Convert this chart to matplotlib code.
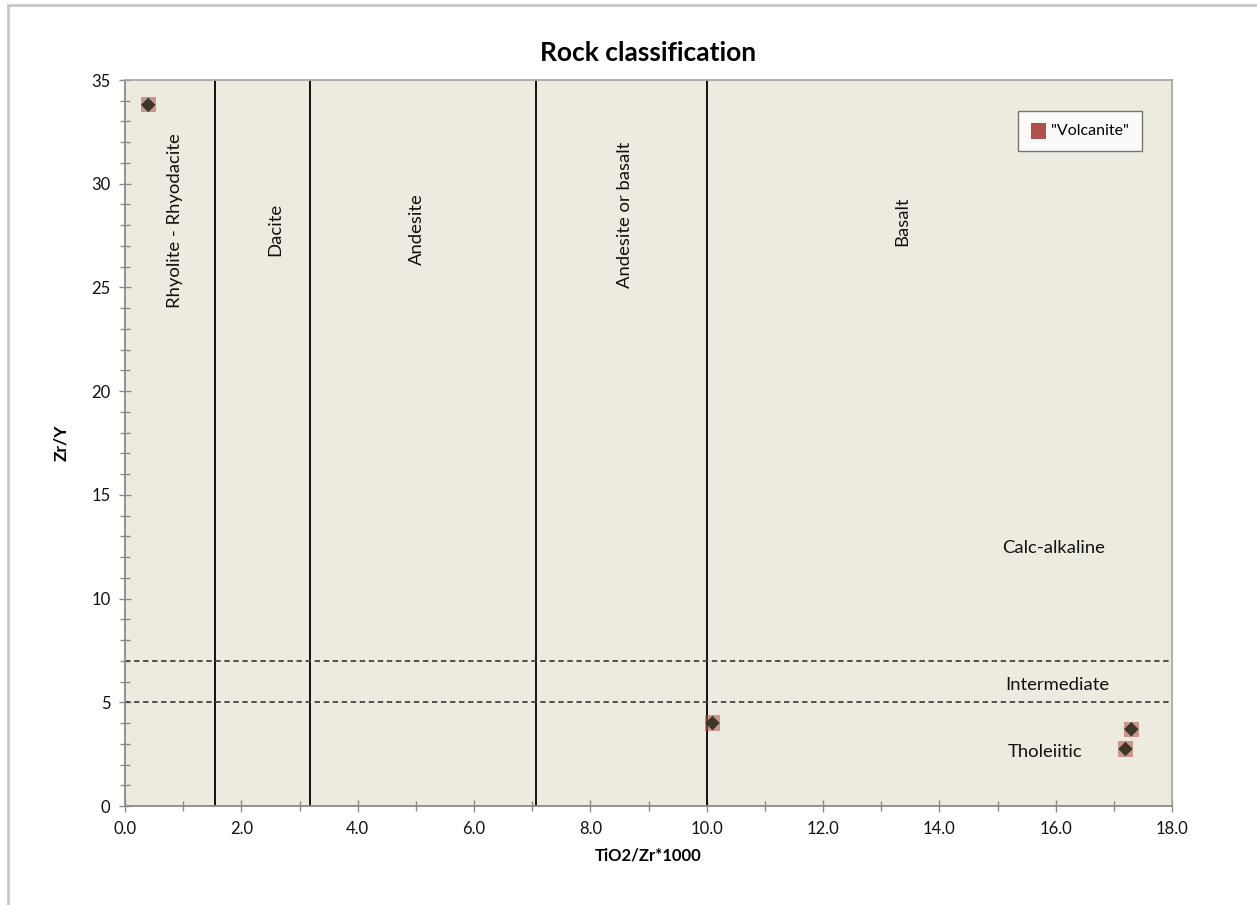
import matplotlib.pyplot as plt
from matplotlib.patches import Rectangle
from matplotlib.ticker import MultipleLocator, FormatStrFormatter

plt.rcParams['font.family'] = ['Lato', 'DejaVu Sans']

# data points ("Volcanite")
ti_zr = [0.40, 10.1, 17.3, 17.2]
zr_y = [33.8, 4.0, 3.7, 2.75]

# field boundaries
x_bounds = [1.55, 3.18, 7.07, 10.0]
y_bounds = [5.0, 7.0]

# field labels
rock_names = ["Rhyolite - Rhyodacite", "Dacite", "Andesite", "Andesite or basalt", "Basalt"]
rock_x = [0.86, 2.58, 5.02, 8.59, 13.37]
rock_y = [28.2, 27.8, 27.8, 28.5, 28.2]

series_names = ["Calc-alkaline", "Intermediate", "Tholeiitic"]
series_x = [15.96, 16.03, 15.82]
series_y = [12.44, 5.83, 2.6]

fig = plt.figure(figsize=(12.57, 9.05), dpi=100)
fig.patches.append(Rectangle((8/1257, -0.01), 1.1, 1 - 5/905 + 0.01, transform=fig.transFigure,
                             fill=False, edgecolor='#c8c8c8', linewidth=2))
ax = fig.add_axes([125/1257, 1 - 806/905, 1047/1257, 726/905])
ax.set_facecolor('#edeae0')

for xb in x_bounds:
    ax.axvline(xb, color='black', lw=1.3, zorder=2)
for yb in y_bounds:
    ax.axhline(yb, color='#444444', lw=1.3, ls=(0, (3, 2)), zorder=2)

ax.scatter(ti_zr, zr_y, marker='s', s=120, color='#b0504a', alpha=0.55,
           edgecolors='none', zorder=3, label='"Volcanite"')
ax.scatter(ti_zr, zr_y, marker='D', s=55, color='#3d3726', edgecolors='none', zorder=4)

for name, x, y in zip(rock_names, rock_x, rock_y):
    ax.text(x, y, name, rotation=90, ha='center', va='center', fontsize=13.3, color='#111111')
for name, x, y in zip(series_names, series_x, series_y):
    ax.text(x, y, name, ha='center', va='center', fontsize=13.3, color='#111111')

ax.set_xlim(0, 18)
ax.set_ylim(0, 35)
ax.xaxis.set_major_locator(MultipleLocator(2))
ax.xaxis.set_minor_locator(MultipleLocator(1))
ax.xaxis.set_major_formatter(FormatStrFormatter('%.1f'))
ax.yaxis.set_major_locator(MultipleLocator(5))
ax.yaxis.set_minor_locator(MultipleLocator(1))
ax.tick_params(which='major', direction='inout', length=9, width=1, color='#8a8a8a',
               labelsize=12, labelcolor='#111111', pad=6)
ax.tick_params(which='minor', direction='inout', length=7, width=1, color='#8a8a8a')

for side in ['left', 'bottom']:
    ax.spines[side].set_color('#8a8a8a')
    ax.spines[side].set_linewidth(1.3)
for side in ['top', 'right']:
    ax.spines[side].set_color('#a8a8a8')
    ax.spines[side].set_linewidth(1.3)

ax.set_xlabel('TiO2/Zr*1000', fontsize=12, fontweight='bold', labelpad=8)
ax.set_ylabel('Zr/Y', fontsize=12.5, fontweight='bold', labelpad=16)
ax.set_title('Rock classification', fontsize=19, fontweight='bold', pad=14)

leg = ax.legend(loc='upper right', bbox_to_anchor=(0.9713, 0.957), borderaxespad=0,
                fontsize=11.5, frameon=True, fancybox=False, handletextpad=0.3,
                handlelength=1.0, borderpad=0.8, scatterpoints=1)
leg.get_frame().set_edgecolor('#555555')
leg.get_frame().set_linewidth(1.0)
leg.legend_handles[0].set_alpha(1.0)

fig.savefig('out.png', dpi=100)
